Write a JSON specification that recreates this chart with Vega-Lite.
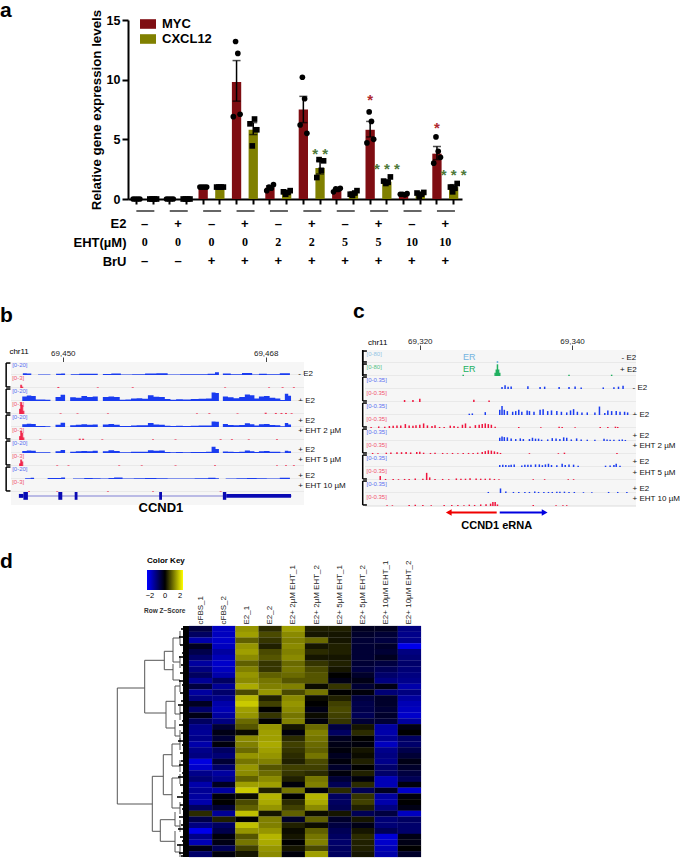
{"$schema":"https://vega.github.io/schema/vega-lite/v6.json","padding":0,"background":"white","spacing":0,"bounds":"full","resolve":{"scale":{"color":"independent","shape":"independent"},"legend":{"color":"independent"}},"config":{"view":{"stroke":null},"font":"Liberation Sans"},"vconcat":[
{"resolve":{"scale":{"color":"independent","shape":"independent"},"legend":{"color":"independent"}},"hconcat":[{"width":128,"height":179,"data":{"values":[]},"mark":"point","title":{"text":"a","anchor":"start","dy":5,"fontSize":21,"fontWeight":"bold"}},
{"width":334,"height":179,"encoding":{"x":{"field":"bar","type":"nominal","scale":{"domain":["1M","1C","2M","2C","3M","3C","4M","4C","5M","5C","6M","6C","7M","7C","8M","8C","9M","9C","10M","10C"],"paddingInner":0,"paddingOuter":0},"axis":{"labels":false,"title":null,"tickWidth":2,"tickSize":5,"tickColor":"#000","domainColor":"#000","domainWidth":2}},"y":{"field":"value","type":"quantitative","scale":{"domain":[0,15],"nice":false},"axis":{"values":[0,5,10,15],"grid":false,"title":"Relative gene expression levels","titleFontSize":13.3,"titleFontWeight":"bold","titleColor":"#000","titlePadding":3,"labelFontSize":12.5,"labelFontWeight":"bold","labelColor":"#000","tickSize":6,"tickWidth":2,"tickColor":"#000","domainColor":"#000","domainWidth":2}}},"layer":[
{"data":{"values":[{"bar":"1M","gene":"MYC","value":0.02},{"bar":"1C","gene":"CXCL12","value":0.02},{"bar":"2M","gene":"MYC","value":0.02},{"bar":"2C","gene":"CXCL12","value":0.02},{"bar":"3M","gene":"MYC","value":1},{"bar":"3C","gene":"CXCL12","value":1},{"bar":"4M","gene":"MYC","value":9.8,"lo":8.2,"hi":11.6},{"bar":"4C","gene":"CXCL12","value":5.8,"lo":5.4,"hi":6.4},{"bar":"5M","gene":"MYC","value":0.95,"lo":0.8,"hi":1.1},{"bar":"5C","gene":"CXCL12","value":0.55,"lo":0.45,"hi":0.65},{"bar":"6M","gene":"MYC","value":7.5,"lo":6.4,"hi":8.6},{"bar":"6C","gene":"CXCL12","value":2.6,"lo":2.1,"hi":3.2},{"bar":"7M","gene":"MYC","value":0.75,"lo":0.65,"hi":0.85},{"bar":"7C","gene":"CXCL12","value":0.5,"lo":0.4,"hi":0.6},{"bar":"8M","gene":"MYC","value":5.8,"lo":5.2,"hi":6.5},{"bar":"8C","gene":"CXCL12","value":1.45,"lo":1.3,"hi":1.6},{"bar":"9M","gene":"MYC","value":0.4,"lo":0.37,"hi":0.43},{"bar":"9C","gene":"CXCL12","value":0.4,"lo":0.3,"hi":0.5},{"bar":"10M","gene":"MYC","value":3.8,"lo":3.3,"hi":4.4},{"bar":"10C","gene":"CXCL12","value":1,"lo":0.8,"hi":1.2}]},"layer":[
{"mark":{"type":"bar","width":9.3},"encoding":{"color":{"field":"gene","type":"nominal","scale":{"domain":["MYC","CXCL12"],"range":["#7f0d12","#808000"]},"legend":{"orient":"none","legendX":12,"legendY":-4,"title":null,"symbolType":"M-1,-0.6H1V0.6H-1Z","symbolSize":256,"symbolStrokeWidth":0,"labelFontSize":13,"labelFontWeight":"bold","labelColor":"#000","rowPadding":0,"labelOffset":6}}}},
{"transform":[{"filter":"isValid(datum.hi)"}],"mark":{"type":"rule","color":"#000","strokeWidth":1.5},"encoding":{"y":{"field":"lo","type":"quantitative"},"y2":{"field":"hi"}}},
{"transform":[{"filter":"isValid(datum.hi)"}],"mark":{"type":"tick","orient":"horizontal","color":"#000","thickness":1.5,"size":8},"encoding":{"y":{"field":"hi","type":"quantitative"}}},
{"transform":[{"filter":"isValid(datum.hi)"}],"mark":{"type":"tick","orient":"horizontal","color":"#000","thickness":1.5,"size":8},"encoding":{"y":{"field":"lo","type":"quantitative"}}}]},
{"data":{"values":[{"bar":"1M","gene":"MYC","rep":1,"value":0},{"bar":"1M","gene":"MYC","rep":2,"value":0},{"bar":"1M","gene":"MYC","rep":3,"value":0},{"bar":"1M","gene":"MYC","rep":4,"value":0},{"bar":"1C","gene":"CXCL12","rep":1,"value":0},{"bar":"1C","gene":"CXCL12","rep":2,"value":0},{"bar":"1C","gene":"CXCL12","rep":3,"value":0},{"bar":"1C","gene":"CXCL12","rep":4,"value":0},{"bar":"2M","gene":"MYC","rep":1,"value":0},{"bar":"2M","gene":"MYC","rep":2,"value":0},{"bar":"2M","gene":"MYC","rep":3,"value":0},{"bar":"2M","gene":"MYC","rep":4,"value":0},{"bar":"2C","gene":"CXCL12","rep":1,"value":0},{"bar":"2C","gene":"CXCL12","rep":2,"value":0},{"bar":"2C","gene":"CXCL12","rep":3,"value":0},{"bar":"2C","gene":"CXCL12","rep":4,"value":0},{"bar":"3M","gene":"MYC","rep":1,"value":1},{"bar":"3M","gene":"MYC","rep":2,"value":1},{"bar":"3M","gene":"MYC","rep":3,"value":1},{"bar":"3M","gene":"MYC","rep":4,"value":1},{"bar":"3C","gene":"CXCL12","rep":1,"value":1},{"bar":"3C","gene":"CXCL12","rep":2,"value":1},{"bar":"3C","gene":"CXCL12","rep":3,"value":1},{"bar":"3C","gene":"CXCL12","rep":4,"value":1},{"bar":"4M","gene":"MYC","rep":1,"value":6.9},{"bar":"4M","gene":"MYC","rep":2,"value":13.2},{"bar":"4M","gene":"MYC","rep":3,"value":12.2},{"bar":"4M","gene":"MYC","rep":4,"value":7.1},{"bar":"4C","gene":"CXCL12","rep":1,"value":6.3},{"bar":"4C","gene":"CXCL12","rep":2,"value":4.45},{"bar":"4C","gene":"CXCL12","rep":3,"value":6.7},{"bar":"4C","gene":"CXCL12","rep":4,"value":5.8},{"bar":"5M","gene":"MYC","rep":1,"value":0.7},{"bar":"5M","gene":"MYC","rep":2,"value":1},{"bar":"5M","gene":"MYC","rep":3,"value":0.9},{"bar":"5M","gene":"MYC","rep":4,"value":1.2},{"bar":"5C","gene":"CXCL12","rep":1,"value":0.6},{"bar":"5C","gene":"CXCL12","rep":2,"value":0.4},{"bar":"5C","gene":"CXCL12","rep":3,"value":0.55},{"bar":"5C","gene":"CXCL12","rep":4,"value":0.7},{"bar":"6M","gene":"MYC","rep":1,"value":6.2},{"bar":"6M","gene":"MYC","rep":2,"value":10.2},{"bar":"6M","gene":"MYC","rep":3,"value":8.4},{"bar":"6M","gene":"MYC","rep":4,"value":5.5},{"bar":"6C","gene":"CXCL12","rep":1,"value":1.8},{"bar":"6C","gene":"CXCL12","rep":2,"value":3.3},{"bar":"6C","gene":"CXCL12","rep":3,"value":2.4},{"bar":"6C","gene":"CXCL12","rep":4,"value":3.2},{"bar":"7M","gene":"MYC","rep":1,"value":0.6},{"bar":"7M","gene":"MYC","rep":2,"value":0.85},{"bar":"7M","gene":"MYC","rep":3,"value":0.8},{"bar":"7M","gene":"MYC","rep":4,"value":0.9},{"bar":"7C","gene":"CXCL12","rep":1,"value":0.4},{"bar":"7C","gene":"CXCL12","rep":2,"value":0.3},{"bar":"7C","gene":"CXCL12","rep":3,"value":0.5},{"bar":"7C","gene":"CXCL12","rep":4,"value":0.7},{"bar":"8M","gene":"MYC","rep":1,"value":4.7},{"bar":"8M","gene":"MYC","rep":2,"value":7.3},{"bar":"8M","gene":"MYC","rep":3,"value":6.5},{"bar":"8M","gene":"MYC","rep":4,"value":5},{"bar":"8C","gene":"CXCL12","rep":1,"value":1.5},{"bar":"8C","gene":"CXCL12","rep":2,"value":1.3},{"bar":"8C","gene":"CXCL12","rep":3,"value":1.4},{"bar":"8C","gene":"CXCL12","rep":4,"value":1.85},{"bar":"9M","gene":"MYC","rep":1,"value":0.4},{"bar":"9M","gene":"MYC","rep":2,"value":0.4},{"bar":"9M","gene":"MYC","rep":3,"value":0.35},{"bar":"9M","gene":"MYC","rep":4,"value":0.45},{"bar":"9C","gene":"CXCL12","rep":1,"value":0.5},{"bar":"9C","gene":"CXCL12","rep":2,"value":0.2},{"bar":"9C","gene":"CXCL12","rep":3,"value":0.4},{"bar":"9C","gene":"CXCL12","rep":4,"value":0.55},{"bar":"10M","gene":"MYC","rep":1,"value":3},{"bar":"10M","gene":"MYC","rep":2,"value":5.2},{"bar":"10M","gene":"MYC","rep":3,"value":4},{"bar":"10M","gene":"MYC","rep":4,"value":3.5},{"bar":"10C","gene":"CXCL12","rep":1,"value":1},{"bar":"10C","gene":"CXCL12","rep":2,"value":0.6},{"bar":"10C","gene":"CXCL12","rep":3,"value":0.9},{"bar":"10C","gene":"CXCL12","rep":4,"value":1.3}]},"encoding":{"xOffset":{"field":"rep","type":"nominal","scale":{"type":"point","range":[4,13]}}},"layer":[{"transform":[{"filter":"datum.gene==='MYC'"}],"mark":{"type":"point","filled":true,"opacity":1,"color":"#000","size":32,"shape":"circle"}},{"transform":[{"filter":"datum.gene==='CXCL12'"}],"mark":{"type":"point","filled":true,"opacity":1,"color":"#000","size":32,"shape":"square"}}]},
{"data":{"values":[{"bar":"8M","stars":"*","value":8.5,"gene":"MYC"},{"bar":"10M","stars":"*","value":6.1,"gene":"MYC"},{"bar":"6C","stars":"* *","value":3.9,"gene":"CXCL12"},{"bar":"8C","stars":"* * *","value":2.7,"gene":"CXCL12"},{"bar":"10C","stars":"* * *","value":2.15,"gene":"CXCL12"}]},"mark":{"type":"text","fontSize":15,"fontWeight":"bold","baseline":"middle","dy":2},"encoding":{"text":{"field":"stars"},"color":{"condition":{"test":"datum.gene==='MYC'","value":"#b02a30"},"value":"#4f7a3a"}}}]}],"spacing":0,"bounds":"flush"},
{"hconcat":[{"width":128,"height":52,"data":{"values":[]},"mark":"point"},
{"width":334,"height":52,"data":{"values":[{"group":1,"row":"line"},{"group":2,"row":"line"},{"group":3,"row":"line"},{"group":4,"row":"line"},{"group":5,"row":"line"},{"group":6,"row":"line"},{"group":7,"row":"line"},{"group":8,"row":"line"},{"group":9,"row":"line"},{"group":10,"row":"line"},{"group":1,"row":"E2","label":"–"},{"group":2,"row":"E2","label":"+"},{"group":3,"row":"E2","label":"–"},{"group":4,"row":"E2","label":"+"},{"group":5,"row":"E2","label":"–"},{"group":6,"row":"E2","label":"+"},{"group":7,"row":"E2","label":"–"},{"group":8,"row":"E2","label":"+"},{"group":9,"row":"E2","label":"–"},{"group":10,"row":"E2","label":"+"},{"group":1,"row":"BrU","label":"–"},{"group":2,"row":"BrU","label":"–"},{"group":3,"row":"BrU","label":"+"},{"group":4,"row":"BrU","label":"+"},{"group":5,"row":"BrU","label":"+"},{"group":6,"row":"BrU","label":"+"},{"group":7,"row":"BrU","label":"+"},{"group":8,"row":"BrU","label":"+"},{"group":9,"row":"BrU","label":"+"},{"group":10,"row":"BrU","label":"+"},{"group":1,"row":"EHT(µM)","label":"0"},{"group":2,"row":"EHT(µM)","label":"0"},{"group":3,"row":"EHT(µM)","label":"0"},{"group":4,"row":"EHT(µM)","label":"0"},{"group":5,"row":"EHT(µM)","label":"2"},{"group":6,"row":"EHT(µM)","label":"2"},{"group":7,"row":"EHT(µM)","label":"5"},{"group":8,"row":"EHT(µM)","label":"5"},{"group":9,"row":"EHT(µM)","label":"10"},{"group":10,"row":"EHT(µM)","label":"10"}]},"encoding":{"x":{"field":"group","type":"ordinal","scale":{"paddingInner":0.5,"paddingOuter":0.25},"axis":null},"y":{"field":"row","type":"nominal","scale":{"type":"point","padding":0,"domain":["line","a","E2","b","c","EHT(µM)","d","e","BrU"],"range":[0,50]},"axis":{"values":["E2","EHT(µM)","BrU"],"title":null,"domain":false,"ticks":false,"labelFontSize":13,"labelFontWeight":"bold","labelColor":"#000","labelPadding":2}}},"layer":[{"transform":[{"filter":"datum.row==='line'"}],"mark":{"type":"bar","height":1.5,"color":"#333"}},{"transform":[{"filter":"datum.row==='E2'||datum.row==='BrU'"}],"mark":{"type":"text","fontSize":13,"fontWeight":"bold","color":"#000"},"encoding":{"text":{"field":"label"}}},{"transform":[{"filter":"datum.row==='EHT(µM)'"}],"mark":{"type":"text","fontSize":12,"fontWeight":"bold","font":"Liberation Serif","color":"#000"},"encoding":{"text":{"field":"label"}}}]}],"spacing":0,"bounds":"flush"},
{"hconcat":[{"width":345,"height":69,"data":{"values":[]},"mark":"point","title":{"text":"b","anchor":"start","dy":62,"fontSize":21,"fontWeight":"bold"}},{"width":340,"height":69,"data":{"values":[]},"mark":"point","title":{"text":"c","anchor":"start","dx":8,"dy":58,"fontSize":21,"fontWeight":"bold"}}],"spacing":0,"bounds":"flush"},
{"resolve":{"scale":{"color":"independent","shape":"independent"},"legend":{"color":"independent"}},"hconcat":[{"width":6,"height":10,"data":{"values":[]},"mark":"point"},
{"vconcat":[{"width":303,"height":12,"data":{"values":[]},"mark":"point"},
{"bounds":"flush","spacing":0,"title":{"text":"chr11","anchor":"start","fontSize":8,"fontWeight":"normal","dx":4,"dy":11},
 "data":{"values":[
{"t":"b1b","range":"[0-20]","p":69445.5,"v":75},{"t":"b1r","range":"[0-3]","p":69445.5,"v":75},{"t":"b2b","range":"[0-20]","p":69445.5,"v":75},{"t":"b2r","range":"[0-3]","p":69445.5,"v":75},{"t":"b3b","range":"[0-20]","p":69445.5,"v":75},{"t":"b3r","range":"[0-3]","p":69445.5,"v":75},{"t":"b4b","range":"[0-20]","p":69445.5,"v":75},{"t":"b4r","range":"[0-3]","p":69445.5,"v":75},{"t":"b5b","range":"[0-20]","p":69445.5,"v":75},{"t":"b5r","range":"[0-3]","p":69445.5,"v":75},{"t":"b6g","range":"","p":69445.5,"v":75},
{"t":"b1b","name":"- E2","p":69470.9,"v":8},{"t":"b2b","name":"+ E2","p":69470.9,"v":2},{"t":"b3b","name":"+ E2","p":69470.9,"v":50},{"t":"b3r","name":"+ EHT 2 µM","p":69470.9,"v":68},{"t":"b4b","name":"+ E2","p":69470.9,"v":25},{"t":"b4r","name":"+ EHT 5 µM","p":69470.9,"v":50},{"t":"b5b","name":"+ E2","p":69470.9,"v":23},{"t":"b5r","name":"+ EHT 10 µM","p":69470.9,"v":50},
{"t":"b6g","gene":"CCND1","p":69458.7,"v":-23},
{"t":"b6g","p":69446.1,"p2":69470.3,"v":68,"v2":72},{"t":"b6g","p":69446.1,"p2":69446.5,"v":55,"v2":85},{"t":"b6g","p":69446.5,"p2":69446.9,"v":40,"v2":100},{"t":"b6g","p":69449.6,"p2":69449.95,"v":40,"v2":100},{"t":"b6g","p":69451.05,"p2":69451.3,"v":40,"v2":100},{"t":"b6g","p":69458.55,"p2":69458.8,"v":40,"v2":100},{"t":"b6g","p":69464.2,"p2":69464.5,"v":40,"v2":100},{"t":"b6g","p":69464.5,"p2":69470.25,"v":55,"v2":85},
{"t":"b2b","p":69446.2,"s":0},{"t":"b2b","p":69446.6,"s":35},{"t":"b2b","p":69447,"s":42},{"t":"b2b","p":69447.4,"s":38},{"t":"b2b","p":69447.8,"s":12},{"t":"b2b","p":69448.2,"s":12},{"t":"b2b","p":69448.7,"s":10},{"t":"b2b","p":69449.1,"s":0},{"t":"b2b","p":69449.6,"s":30},{"t":"b2b","p":69450,"s":48},{"t":"b2b","p":69450.4,"s":0},{"t":"b2b","p":69450.9,"s":28},{"t":"b2b","p":69451.4,"s":25},{"t":"b2b","p":69451.9,"s":38},{"t":"b2b","p":69452.4,"s":30},{"t":"b2b","p":69452.9,"s":35},{"t":"b2b","p":69453.3,"s":0},{"t":"b2b","p":69453.8,"s":30},{"t":"b2b","p":69454.3,"s":35},{"t":"b2b","p":69454.8,"s":30},{"t":"b2b","p":69455.3,"s":10},{"t":"b2b","p":69455.8,"s":12},{"t":"b2b","p":69456.3,"s":20},{"t":"b2b","p":69456.8,"s":22},{"t":"b2b","p":69457.3,"s":18},{"t":"b2b","p":69457.8,"s":45},{"t":"b2b","p":69458.3,"s":32},{"t":"b2b","p":69458.8,"s":30},{"t":"b2b","p":69459.3,"s":15},{"t":"b2b","p":69459.8,"s":10},{"t":"b2b","p":69460.3,"s":14},{"t":"b2b","p":69461,"s":12},{"t":"b2b","p":69461.7,"s":16},{"t":"b2b","p":69462.4,"s":18},{"t":"b2b","p":69463,"s":20},{"t":"b2b","p":69463.4,"s":65},{"t":"b2b","p":69463.7,"s":62},{"t":"b2b","p":69464,"s":0},{"t":"b2b","p":69464.4,"s":35},{"t":"b2b","p":69464.9,"s":28},{"t":"b2b","p":69465.4,"s":22},{"t":"b2b","p":69465.9,"s":30},{"t":"b2b","p":69466.4,"s":50},{"t":"b2b","p":69466.8,"s":45},{"t":"b2b","p":69467.2,"s":20},{"t":"b2b","p":69467.6,"s":35},{"t":"b2b","p":69468.1,"s":38},{"t":"b2b","p":69468.6,"s":25},{"t":"b2b","p":69469.1,"s":20},{"t":"b2b","p":69469.5,"s":8},{"t":"b2b","p":69469.9,"s":55},{"t":"b2b","p":69470.1,"s":40},{"t":"b2b","p":69470.4,"s":0},
{"t":"b3b","p":69446.2,"s":0},{"t":"b3b","p":69446.6,"s":22},{"t":"b3b","p":69447,"s":25},{"t":"b3b","p":69447.4,"s":24},{"t":"b3b","p":69447.8,"s":8},{"t":"b3b","p":69448.2,"s":7},{"t":"b3b","p":69448.7,"s":6},{"t":"b3b","p":69449.1,"s":0},{"t":"b3b","p":69449.6,"s":18},{"t":"b3b","p":69450,"s":32},{"t":"b3b","p":69450.4,"s":0},{"t":"b3b","p":69450.9,"s":14},{"t":"b3b","p":69451.4,"s":18},{"t":"b3b","p":69451.9,"s":22},{"t":"b3b","p":69452.4,"s":18},{"t":"b3b","p":69452.9,"s":20},{"t":"b3b","p":69453.3,"s":0},{"t":"b3b","p":69453.8,"s":20},{"t":"b3b","p":69454.3,"s":24},{"t":"b3b","p":69454.8,"s":18},{"t":"b3b","p":69455.3,"s":7},{"t":"b3b","p":69455.8,"s":8},{"t":"b3b","p":69456.3,"s":12},{"t":"b3b","p":69456.8,"s":14},{"t":"b3b","p":69457.3,"s":14},{"t":"b3b","p":69457.8,"s":30},{"t":"b3b","p":69458.3,"s":20},{"t":"b3b","p":69458.8,"s":18},{"t":"b3b","p":69459.3,"s":10},{"t":"b3b","p":69459.8,"s":8},{"t":"b3b","p":69460.3,"s":9},{"t":"b3b","p":69461,"s":8},{"t":"b3b","p":69461.7,"s":10},{"t":"b3b","p":69462.4,"s":11},{"t":"b3b","p":69463,"s":12},{"t":"b3b","p":69463.4,"s":42},{"t":"b3b","p":69463.7,"s":40},{"t":"b3b","p":69464,"s":0},{"t":"b3b","p":69464.4,"s":24},{"t":"b3b","p":69464.9,"s":16},{"t":"b3b","p":69465.4,"s":14},{"t":"b3b","p":69465.9,"s":16},{"t":"b3b","p":69466.4,"s":28},{"t":"b3b","p":69466.8,"s":22},{"t":"b3b","p":69467.2,"s":12},{"t":"b3b","p":69467.6,"s":22},{"t":"b3b","p":69468.1,"s":24},{"t":"b3b","p":69468.6,"s":16},{"t":"b3b","p":69469.1,"s":14},{"t":"b3b","p":69469.5,"s":5},{"t":"b3b","p":69469.9,"s":30},{"t":"b3b","p":69470.1,"s":20},{"t":"b3b","p":69470.4,"s":0},
{"t":"b4b","p":69446.2,"s":0},{"t":"b4b","p":69446.6,"s":16},{"t":"b4b","p":69447,"s":20},{"t":"b4b","p":69447.4,"s":18},{"t":"b4b","p":69447.8,"s":6},{"t":"b4b","p":69448.2,"s":6},{"t":"b4b","p":69448.7,"s":5},{"t":"b4b","p":69449.1,"s":0},{"t":"b4b","p":69449.6,"s":14},{"t":"b4b","p":69450,"s":24},{"t":"b4b","p":69450.4,"s":0},{"t":"b4b","p":69450.9,"s":10},{"t":"b4b","p":69451.4,"s":14},{"t":"b4b","p":69451.9,"s":16},{"t":"b4b","p":69452.4,"s":14},{"t":"b4b","p":69452.9,"s":18},{"t":"b4b","p":69453.3,"s":0},{"t":"b4b","p":69453.8,"s":14},{"t":"b4b","p":69454.3,"s":22},{"t":"b4b","p":69454.8,"s":16},{"t":"b4b","p":69455.3,"s":6},{"t":"b4b","p":69455.8,"s":6},{"t":"b4b","p":69456.3,"s":10},{"t":"b4b","p":69456.8,"s":10},{"t":"b4b","p":69457.3,"s":10},{"t":"b4b","p":69457.8,"s":22},{"t":"b4b","p":69458.3,"s":18},{"t":"b4b","p":69458.8,"s":20},{"t":"b4b","p":69459.3,"s":8},{"t":"b4b","p":69459.8,"s":6},{"t":"b4b","p":69460.3,"s":7},{"t":"b4b","p":69461,"s":6},{"t":"b4b","p":69461.7,"s":8},{"t":"b4b","p":69462.4,"s":8},{"t":"b4b","p":69463,"s":10},{"t":"b4b","p":69463.4,"s":48},{"t":"b4b","p":69463.7,"s":30},{"t":"b4b","p":69464,"s":0},{"t":"b4b","p":69464.4,"s":12},{"t":"b4b","p":69464.9,"s":10},{"t":"b4b","p":69465.4,"s":8},{"t":"b4b","p":69465.9,"s":10},{"t":"b4b","p":69466.4,"s":20},{"t":"b4b","p":69466.8,"s":14},{"t":"b4b","p":69467.2,"s":8},{"t":"b4b","p":69467.6,"s":14},{"t":"b4b","p":69468.1,"s":16},{"t":"b4b","p":69468.6,"s":10},{"t":"b4b","p":69469.1,"s":10},{"t":"b4b","p":69469.5,"s":4},{"t":"b4b","p":69469.9,"s":18},{"t":"b4b","p":69470.1,"s":14},{"t":"b4b","p":69470.4,"s":0},
{"t":"b1b","p":69446.3,"s":0},{"t":"b1b","p":69446.6,"s":14},{"t":"b1b","p":69447,"s":12},{"t":"b1b","p":69447.4,"s":0},{"t":"b1b","p":69448.2,"s":4},{"t":"b1b","p":69448.7,"s":3},{"t":"b1b","p":69449.1,"s":0},{"t":"b1b","p":69449.7,"s":10},{"t":"b1b","p":69450,"s":12},{"t":"b1b","p":69450.4,"s":0},{"t":"b1b","p":69451,"s":6},{"t":"b1b","p":69451.9,"s":10},{"t":"b1b","p":69452.9,"s":9},{"t":"b1b","p":69453.3,"s":0},{"t":"b1b","p":69453.8,"s":8},{"t":"b1b","p":69454.8,"s":12},{"t":"b1b","p":69455.5,"s":4},{"t":"b1b","p":69456.8,"s":6},{"t":"b1b","p":69457.8,"s":12},{"t":"b1b","p":69458.8,"s":14},{"t":"b1b","p":69459.8,"s":4},{"t":"b1b","p":69461,"s":5},{"t":"b1b","p":69462.4,"s":5},{"t":"b1b","p":69463.3,"s":10},{"t":"b1b","p":69463.7,"s":22},{"t":"b1b","p":69464,"s":0},{"t":"b1b","p":69464.4,"s":12},{"t":"b1b","p":69465.4,"s":6},{"t":"b1b","p":69466.4,"s":16},{"t":"b1b","p":69467.2,"s":4},{"t":"b1b","p":69467.6,"s":10},{"t":"b1b","p":69468.6,"s":6},{"t":"b1b","p":69469.9,"s":14},{"t":"b1b","p":69470.4,"s":0},
{"t":"b5b","p":69446.3,"s":0},{"t":"b5b","p":69447,"s":6},{"t":"b5b","p":69447.3,"s":10},{"t":"b5b","p":69447.6,"s":0},{"t":"b5b","p":69449.7,"s":8},{"t":"b5b","p":69450,"s":12},{"t":"b5b","p":69450.4,"s":0},{"t":"b5b","p":69451.4,"s":4},{"t":"b5b","p":69452.4,"s":8},{"t":"b5b","p":69452.9,"s":5},{"t":"b5b","p":69453.8,"s":4},{"t":"b5b","p":69454.3,"s":8},{"t":"b5b","p":69454.8,"s":12},{"t":"b5b","p":69455.8,"s":4},{"t":"b5b","p":69456.8,"s":5},{"t":"b5b","p":69457.8,"s":8},{"t":"b5b","p":69458.8,"s":6},{"t":"b5b","p":69459.8,"s":3},{"t":"b5b","p":69461,"s":3},{"t":"b5b","p":69462.4,"s":5},{"t":"b5b","p":69463.4,"s":10},{"t":"b5b","p":69463.7,"s":6},{"t":"b5b","p":69464,"s":0},{"t":"b5b","p":69464.9,"s":4},{"t":"b5b","p":69465.9,"s":6},{"t":"b5b","p":69466.8,"s":8},{"t":"b5b","p":69467.6,"s":6},{"t":"b5b","p":69468.6,"s":4},{"t":"b5b","p":69469.9,"s":10},{"t":"b5b","p":69470.4,"s":0},
{"t":"b1r","p":69446.3,"s":25},{"t":"b1r","p":69446.4,"s":10},{"t":"b1r","p":69449.6,"s":8},{"t":"b1r","p":69453.1,"s":5},{"t":"b1r","p":69456.2,"s":6},{"t":"b1r","p":69464.4,"s":5},{"t":"b1r","p":69468.3,"s":5},{"t":"b1r","p":69469.5,"s":6},{"t":"b1r","p":69470.5,"s":6},
{"t":"b2r","p":69446.2,"s":40},{"t":"b2r","p":69446.3,"s":90},{"t":"b2r","p":69446.4,"s":70},{"t":"b2r","p":69446.5,"s":25},{"t":"b2r","p":69449.8,"s":5},{"t":"b2r","p":69451.3,"s":5},{"t":"b2r","p":69454,"s":5},{"t":"b2r","p":69461.9,"s":5},{"t":"b2r","p":69463,"s":6},{"t":"b2r","p":69465.5,"s":5},{"t":"b2r","p":69468,"s":10},{"t":"b2r","p":69468.9,"s":8},{"t":"b2r","p":69469.4,"s":8},{"t":"b2r","p":69469.8,"s":8},{"t":"b2r","p":69470.3,"s":6},
{"t":"b3r","p":69446.2,"s":30},{"t":"b3r","p":69446.3,"s":70},{"t":"b3r","p":69446.4,"s":55},{"t":"b3r","p":69446.5,"s":20},{"t":"b3r","p":69448,"s":5},{"t":"b3r","p":69451.5,"s":10},{"t":"b3r","p":69451.8,"s":10},{"t":"b3r","p":69453.5,"s":5},{"t":"b3r","p":69458,"s":5},{"t":"b3r","p":69460,"s":5},{"t":"b3r","p":69464,"s":6},{"t":"b3r","p":69465,"s":6},{"t":"b3r","p":69466.5,"s":5},{"t":"b3r","p":69469,"s":6},
{"t":"b4r","p":69446.2,"s":20},{"t":"b4r","p":69446.3,"s":50},{"t":"b4r","p":69446.4,"s":35},{"t":"b4r","p":69449.5,"s":5},{"t":"b4r","p":69450.5,"s":5},{"t":"b4r","p":69455,"s":5},{"t":"b4r","p":69457,"s":5},{"t":"b4r","p":69460,"s":5},{"t":"b4r","p":69463.5,"s":6},{"t":"b4r","p":69469,"s":5},{"t":"b4r","p":69469.8,"s":6},{"t":"b4r","p":69470.5,"s":6},
{"t":"b5r","p":69447,"s":6},{"t":"b5r","p":69449.5,"s":5},{"t":"b5r","p":69454,"s":5},{"t":"b5r","p":69458,"s":5},{"t":"b5r","p":69464,"s":5}
]},
 "facet":{"row":{"field":"t","type":"nominal","header":null}},
 "spec":{"width":303,"height":13,"encoding":{"x":{"field":"p","type":"quantitative","scale":{"domain":[69445.4,69471.4],"nice":false,"zero":false},"axis":{"orient":"top","values":[69450,69468],"format":",d","title":null,"domain":false,"grid":false,"labelFontSize":8,"labelPadding":0,"tickSize":5,"tickColor":"#444","labelColor":"#222"}},"y":{"field":"v","type":"quantitative","scale":{"domain":[0,100]},"axis":null},"color":{"field":"t","type":"nominal","scale":{"domain":["b1b","b1r","b2b","b2r","b3b","b3r","b4b","b4r","b5b","b5r","b6g"],"range":["#1a3cf0","#f0143c","#1a3cf0","#f0143c","#1a3cf0","#f0143c","#1a3cf0","#f0143c","#1a3cf0","#f0143c","#0a0ab4"]},"legend":null}},"layer":[
{"transform":[{"filter":"isValid(datum.range)"}],"mark":{"type":"rect"},"encoding":{"x":{"datum":69445.4},"x2":{"datum":69471.4},"y":{"datum":0,"axis":null},"y2":{"datum":100},"color":{"value":"#f6f6f6"}}},
{"transform":[{"filter":"datum.range"}],"mark":{"type":"rule","strokeWidth":1},"encoding":{"x":{"datum":69445.4},"x2":{"datum":69471.4},"y":{"datum":0,"axis":null},"color":{"value":"#dcdcdc"}}},
{"transform":[{"filter":"isValid(datum.s)&&test(/b$/,datum.t)"}],"mark":{"type":"area","interpolate":"step"},"encoding":{"y":{"field":"s","type":"quantitative","stack":null,"axis":null}}},
{"transform":[{"filter":"isValid(datum.s)&&test(/r$/,datum.t)"}],"mark":{"type":"bar","width":2,"orient":"vertical","opacity":0.8},"encoding":{"y":{"field":"s","type":"quantitative","stack":null,"axis":null}}},
{"transform":[{"filter":"isValid(datum.p2)"}],"mark":{"type":"rect"},"encoding":{"x2":{"field":"p2"},"y2":{"field":"v2"}}},
{"transform":[{"filter":"datum.range&&test(/b$/,datum.t)"}],"mark":{"type":"rule","strokeWidth":1.5},"encoding":{"x":{"datum":69444.97},"x2":{"datum":69445.35},"y":{"datum":92,"axis":null},"color":{"value":"#000"}}},
{"transform":[{"filter":"datum.range&&test(/b$/,datum.t)"}],"mark":{"type":"rule","strokeWidth":1.5},"encoding":{"x":{"datum":69444.97},"y":{"datum":92,"axis":null},"y2":{"datum":0},"color":{"value":"#000"}}},
{"transform":[{"filter":"datum.range&&test(/r$/,datum.t)"}],"mark":{"type":"rule","strokeWidth":1.5},"encoding":{"x":{"datum":69444.97},"x2":{"datum":69445.35},"y":{"datum":8,"axis":null},"color":{"value":"#000"}}},
{"transform":[{"filter":"datum.range&&test(/r$/,datum.t)"}],"mark":{"type":"rule","strokeWidth":1.5},"encoding":{"x":{"datum":69444.97},"y":{"datum":100,"axis":null},"y2":{"datum":8},"color":{"value":"#000"}}},
{"transform":[{"filter":"datum.range"}],"mark":{"type":"text","fontSize":6,"align":"left","opacity":0.75},"encoding":{"text":{"field":"range"}}},
{"transform":[{"filter":"isValid(datum.name)"}],"mark":{"type":"text","fontSize":8,"align":"left"},"encoding":{"text":{"field":"name"},"color":{"value":"#111"}}},
{"transform":[{"filter":"isValid(datum.gene)"}],"mark":{"type":"text","fontSize":13,"fontWeight":"bold"},"encoding":{"text":{"field":"gene"},"color":{"value":"#000"}}}
]}}],"spacing":0,"bounds":"flush"},
{"width":354,"height":10,"data":{"values":[]},"mark":"point"},
{"bounds":"flush","spacing":0,"title":{"text":"chr11","anchor":"start","fontSize":8,"fontWeight":"normal","dx":8,"dy":14},
 "data":{"values":[
{"t":"c1a","range":"[0-80]","p":69313,"v":70},{"t":"c1c","range":"[0-80]","p":69313,"v":70},{"t":"c2b","range":"[0-0.35]","p":69313,"v":70},{"t":"c2r","range":"[0-0.35]","p":69313,"v":70},{"t":"c3b","range":"[0-0.35]","p":69313,"v":70},{"t":"c3r","range":"[0-0.35]","p":69313,"v":70},{"t":"c4b","range":"[0-0.35]","p":69313,"v":70},{"t":"c4r","range":"[0-0.35]","p":69313,"v":70},{"t":"c5b","range":"[0-0.35]","p":69313,"v":70},{"t":"c5r","range":"[0-0.35]","p":69313,"v":70},{"t":"c6b","range":"[0-0.35]","p":69313,"v":70},{"t":"c6r","range":"[0-0.35]","p":69313,"v":70},
{"t":"c1a","er":"ER","p":69326.5,"v":45},{"t":"c1c","er":"ER","p":69326.5,"v":56},
{"t":"c1a","name":"- E2","p":69346.5,"v":35},{"t":"c1c","name":"+ E2","p":69346.3,"v":50},{"t":"c2b","name":"- E2","p":69347.95,"v":5},{"t":"c3b","name":"+ E2","p":69347.95,"v":2},{"t":"c4b","name":"+ E2","p":69347.95,"v":40},{"t":"c4r","name":"+ EHT 2 µM","p":69347.95,"v":62},{"t":"c5b","name":"+ E2","p":69347.95,"v":35},{"t":"c5r","name":"+ EHT 5 µM","p":69347.95,"v":55},{"t":"c6b","name":"+ E2","p":69347.95,"v":28},{"t":"c6r","name":"+ EHT 10 µM","p":69347.95,"v":55},
{"t":"c7g","gene":"CCND1 eRNA","p":69330.1,"v":-54},{"t":"c7g","arrow":"left","p":69330.1,"p2":69323.8,"v":50},{"t":"c7g","arrow":"right","p":69330.5,"p2":69336.4,"v":50},
{"t":"c1a","p":69330.2,"s":15},{"t":"c1c","p":69329.9,"s":25},{"t":"c1c","p":69330.05,"s":50},{"t":"c1c","p":69330.2,"s":90},{"t":"c1c","p":69330.35,"s":50},{"t":"c1c","p":69330.5,"s":25},{"t":"c1c","p":69325.7,"s":10},{"t":"c1c","p":69339.6,"s":10},{"t":"c1c","p":69345.2,"s":10},
{"t":"c2b","p":69330.8,"s":15},{"t":"c2b","p":69331.2,"s":28},{"t":"c2b","p":69331.6,"s":18},{"t":"c2b","p":69332,"s":20},{"t":"c2b","p":69334.2,"s":22},{"t":"c2b","p":69335.8,"s":15},{"t":"c2b","p":69336.4,"s":18},{"t":"c2b","p":69338.3,"s":15},{"t":"c2b","p":69339.6,"s":15},{"t":"c2b","p":69340.4,"s":20},{"t":"c2b","p":69341.2,"s":12},{"t":"c2b","p":69344.1,"s":12},{"t":"c2b","p":69345.5,"s":14},{"t":"c2b","p":69346.1,"s":18},{"t":"c2b","p":69346.7,"s":25},
{"t":"c2r","p":69318,"s":15},{"t":"c2r","p":69319.1,"s":15},{"t":"c2r","p":69320,"s":25},{"t":"c2r","p":69327.1,"s":18},{"t":"c2r","p":69329.1,"s":12},
{"t":"c3b","p":69326.5,"s":10},{"t":"c3b","p":69326.9,"s":12},{"t":"c3b","p":69328.6,"s":22},{"t":"c3b","p":69330.5,"s":40},{"t":"c3b","p":69330.8,"s":70},{"t":"c3b","p":69331.1,"s":40},{"t":"c3b","p":69331.5,"s":30},{"t":"c3b","p":69332.2,"s":25},{"t":"c3b","p":69332.6,"s":30},{"t":"c3b","p":69333,"s":40},{"t":"c3b","p":69333.4,"s":25},{"t":"c3b","p":69334.1,"s":35},{"t":"c3b","p":69334.4,"s":30},{"t":"c3b","p":69335,"s":25},{"t":"c3b","p":69335.8,"s":40},{"t":"c3b","p":69336.2,"s":45},{"t":"c3b","p":69336.8,"s":30},{"t":"c3b","p":69337.3,"s":35},{"t":"c3b","p":69338,"s":30},{"t":"c3b","p":69338.6,"s":25},{"t":"c3b","p":69339.3,"s":20},{"t":"c3b","p":69339.8,"s":35},{"t":"c3b","p":69340.2,"s":45},{"t":"c3b","p":69340.7,"s":25},{"t":"c3b","p":69341.3,"s":20},{"t":"c3b","p":69342,"s":20},{"t":"c3b","p":69343,"s":20},{"t":"c3b","p":69343.6,"s":65},{"t":"c3b","p":69344.3,"s":15},{"t":"c3b","p":69344.7,"s":35},{"t":"c3b","p":69345.2,"s":30},{"t":"c3b","p":69345.8,"s":30},{"t":"c3b","p":69346.3,"s":25},{"t":"c3b","p":69346.9,"s":25},{"t":"c3b","p":69347.3,"s":20},
{"t":"c3r","p":69313.6,"s":8},{"t":"c3r","p":69314.6,"s":12},{"t":"c3r","p":69315.4,"s":10},{"t":"c3r","p":69316,"s":15},{"t":"c3r","p":69316.5,"s":18},{"t":"c3r","p":69317,"s":20},{"t":"c3r","p":69317.5,"s":20},{"t":"c3r","p":69318.1,"s":30},{"t":"c3r","p":69318.6,"s":20},{"t":"c3r","p":69319.1,"s":18},{"t":"c3r","p":69319.5,"s":22},{"t":"c3r","p":69320,"s":25},{"t":"c3r","p":69320.5,"s":35},{"t":"c3r","p":69321,"s":20},{"t":"c3r","p":69321.6,"s":15},{"t":"c3r","p":69322,"s":22},{"t":"c3r","p":69322.6,"s":8},{"t":"c3r","p":69323.2,"s":8},{"t":"c3r","p":69324,"s":18},{"t":"c3r","p":69324.5,"s":15},{"t":"c3r","p":69325,"s":10},{"t":"c3r","p":69325.6,"s":25},{"t":"c3r","p":69326,"s":35},{"t":"c3r","p":69326.6,"s":12},{"t":"c3r","p":69327.3,"s":22},{"t":"c3r","p":69327.8,"s":25},{"t":"c3r","p":69328.2,"s":30},{"t":"c3r","p":69328.6,"s":35},{"t":"c3r","p":69329,"s":30},{"t":"c3r","p":69329.4,"s":25},{"t":"c3r","p":69329.9,"s":10},{"t":"c3r","p":69333,"s":8},{"t":"c3r","p":69335.9,"s":6},{"t":"c3r","p":69338.3,"s":10},{"t":"c3r","p":69338.7,"s":8},{"t":"c3r","p":69340.4,"s":6},{"t":"c3r","p":69343.7,"s":8},{"t":"c3r","p":69344.7,"s":8},{"t":"c3r","p":69345.7,"s":10},{"t":"c3r","p":69346,"s":8},
{"t":"c4b","p":69330.5,"s":25},{"t":"c4b","p":69330.8,"s":35},{"t":"c4b","p":69331.1,"s":30},{"t":"c4b","p":69331.5,"s":28},{"t":"c4b","p":69332,"s":20},{"t":"c4b","p":69332.6,"s":15},{"t":"c4b","p":69333.2,"s":20},{"t":"c4b","p":69333.6,"s":15},{"t":"c4b","p":69334.4,"s":15},{"t":"c4b","p":69334.8,"s":25},{"t":"c4b","p":69335.2,"s":18},{"t":"c4b","p":69335.6,"s":18},{"t":"c4b","p":69336,"s":10},{"t":"c4b","p":69336.8,"s":12},{"t":"c4b","p":69337.4,"s":22},{"t":"c4b","p":69337.9,"s":20},{"t":"c4b","p":69338.4,"s":15},{"t":"c4b","p":69338.9,"s":28},{"t":"c4b","p":69339.3,"s":25},{"t":"c4b","p":69339.9,"s":12},{"t":"c4b","p":69340.6,"s":20},{"t":"c4b","p":69341.2,"s":12},{"t":"c4b","p":69342,"s":10},{"t":"c4b","p":69343,"s":10},{"t":"c4b","p":69344.2,"s":18},{"t":"c4b","p":69344.6,"s":12},{"t":"c4b","p":69345,"s":10},{"t":"c4b","p":69345.5,"s":10},{"t":"c4b","p":69346.2,"s":10},{"t":"c4b","p":69346.6,"s":12},{"t":"c4b","p":69347,"s":8},
{"t":"c4r","p":69313.8,"s":8},{"t":"c4r","p":69314.5,"s":6},{"t":"c4r","p":69315.6,"s":10},{"t":"c4r","p":69316.2,"s":12},{"t":"c4r","p":69317,"s":14},{"t":"c4r","p":69317.6,"s":14},{"t":"c4r","p":69318.2,"s":16},{"t":"c4r","p":69318.8,"s":12},{"t":"c4r","p":69319.6,"s":16},{"t":"c4r","p":69320,"s":18},{"t":"c4r","p":69320.5,"s":10},{"t":"c4r","p":69321.4,"s":8},{"t":"c4r","p":69322,"s":10},{"t":"c4r","p":69323,"s":8},{"t":"c4r","p":69323.6,"s":6},{"t":"c4r","p":69324.3,"s":8},{"t":"c4r","p":69325,"s":6},{"t":"c4r","p":69325.7,"s":8},{"t":"c4r","p":69326.4,"s":8},{"t":"c4r","p":69327,"s":8},{"t":"c4r","p":69327.6,"s":10},{"t":"c4r","p":69328.2,"s":16},{"t":"c4r","p":69328.6,"s":22},{"t":"c4r","p":69329,"s":28},{"t":"c4r","p":69329.4,"s":26},{"t":"c4r","p":69329.8,"s":20},{"t":"c4r","p":69330.2,"s":14},{"t":"c4r","p":69330.6,"s":8},{"t":"c4r","p":69334.4,"s":6},{"t":"c4r","p":69338.2,"s":6},{"t":"c4r","p":69339,"s":10},{"t":"c4r","p":69345.9,"s":8},
{"t":"c5b","p":69330.5,"s":15},{"t":"c5b","p":69330.9,"s":18},{"t":"c5b","p":69331.3,"s":15},{"t":"c5b","p":69331.7,"s":14},{"t":"c5b","p":69332,"s":18},{"t":"c5b","p":69332.4,"s":20},{"t":"c5b","p":69333.4,"s":12},{"t":"c5b","p":69333.8,"s":18},{"t":"c5b","p":69334.2,"s":18},{"t":"c5b","p":69334.6,"s":18},{"t":"c5b","p":69335.2,"s":20},{"t":"c5b","p":69335.7,"s":20},{"t":"c5b","p":69336.1,"s":14},{"t":"c5b","p":69336.5,"s":20},{"t":"c5b","p":69336.9,"s":25},{"t":"c5b","p":69337.3,"s":15},{"t":"c5b","p":69338,"s":14},{"t":"c5b","p":69338.7,"s":25},{"t":"c5b","p":69339.1,"s":15},{"t":"c5b","p":69339.6,"s":20},{"t":"c5b","p":69340.2,"s":18},{"t":"c5b","p":69340.8,"s":10},{"t":"c5b","p":69344.4,"s":10},{"t":"c5b","p":69345,"s":12},{"t":"c5b","p":69345.5,"s":15},{"t":"c5b","p":69345.8,"s":25},{"t":"c5b","p":69346.3,"s":10},
{"t":"c5r","p":69314.8,"s":30},{"t":"c5r","p":69315.5,"s":8},{"t":"c5r","p":69316.5,"s":8},{"t":"c5r","p":69317.2,"s":6},{"t":"c5r","p":69318,"s":8},{"t":"c5r","p":69318.6,"s":8},{"t":"c5r","p":69319.4,"s":12},{"t":"c5r","p":69320.4,"s":10},{"t":"c5r","p":69320.9,"s":55},{"t":"c5r","p":69321.3,"s":20},{"t":"c5r","p":69322,"s":8},{"t":"c5r","p":69323,"s":8},{"t":"c5r","p":69323.8,"s":6},{"t":"c5r","p":69324.8,"s":12},{"t":"c5r","p":69325.4,"s":10},{"t":"c5r","p":69326,"s":10},{"t":"c5r","p":69326.6,"s":14},{"t":"c5r","p":69327.4,"s":12},{"t":"c5r","p":69328,"s":10},{"t":"c5r","p":69328.6,"s":10},{"t":"c5r","p":69329.2,"s":12},{"t":"c5r","p":69329.8,"s":8},{"t":"c5r","p":69330.4,"s":6},{"t":"c5r","p":69334.9,"s":6},{"t":"c5r","p":69336.4,"s":6},{"t":"c5r","p":69339.5,"s":6},{"t":"c5r","p":69340.2,"s":6},
{"t":"c6b","p":69329,"s":8},{"t":"c6b","p":69330.6,"s":35},{"t":"c6b","p":69331.3,"s":12},{"t":"c6b","p":69332.3,"s":8},{"t":"c6b","p":69333,"s":8},{"t":"c6b","p":69333.8,"s":8},{"t":"c6b","p":69334.4,"s":8},{"t":"c6b","p":69335.1,"s":12},{"t":"c6b","p":69335.6,"s":8},{"t":"c6b","p":69336.3,"s":8},{"t":"c6b","p":69336.9,"s":8},{"t":"c6b","p":69337.4,"s":8},{"t":"c6b","p":69338,"s":10},{"t":"c6b","p":69338.4,"s":10},{"t":"c6b","p":69339,"s":10},{"t":"c6b","p":69339.6,"s":8},{"t":"c6b","p":69340.3,"s":8},{"t":"c6b","p":69341.5,"s":6},{"t":"c6b","p":69342.6,"s":6},{"t":"c6b","p":69344.8,"s":8},{"t":"c6b","p":69346,"s":8},{"t":"c6b","p":69347.2,"s":8},
{"t":"c6r","p":69315.7,"s":6},{"t":"c6r","p":69316.4,"s":5},{"t":"c6r","p":69318.6,"s":8},{"t":"c6r","p":69319.4,"s":10},{"t":"c6r","p":69320.4,"s":8},{"t":"c6r","p":69321.5,"s":5},{"t":"c6r","p":69323.2,"s":8},{"t":"c6r","p":69324.2,"s":8},{"t":"c6r","p":69325,"s":8},{"t":"c6r","p":69325.8,"s":6},{"t":"c6r","p":69326.5,"s":10},{"t":"c6r","p":69327.2,"s":8},{"t":"c6r","p":69328,"s":12},{"t":"c6r","p":69328.7,"s":14},{"t":"c6r","p":69329.3,"s":18},{"t":"c6r","p":69329.6,"s":30},{"t":"c6r","p":69329.9,"s":30},{"t":"c6r","p":69330.2,"s":12},{"t":"c6r","p":69334.9,"s":8},{"t":"c6r","p":69337.9,"s":6},{"t":"c6r","p":69338.8,"s":6},{"t":"c6r","p":69339.3,"s":6}
]},
 "facet":{"row":{"field":"t","type":"nominal","header":null}},
 "spec":{"width":281,"height":13,"encoding":{"x":{"field":"p","type":"quantitative","scale":{"domain":[69312.8,69348.4],"nice":false,"zero":false},"axis":{"orient":"top","values":[69320,69340],"format":",d","title":null,"domain":false,"grid":false,"labelFontSize":8,"labelPadding":0,"tickSize":5,"tickColor":"#444","labelColor":"#222"}},"y":{"field":"v","type":"quantitative","scale":{"domain":[0,100]},"axis":null},"color":{"field":"t","type":"nominal","scale":{"domain":["c1a","c1c","c2b","c2r","c3b","c3r","c4b","c4r","c5b","c5r","c6b","c6r","c7g"],"range":["#74b4e0","#20b060","#1a3cf0","#f0143c","#1a3cf0","#f0143c","#1a3cf0","#f0143c","#1a3cf0","#f0143c","#1a3cf0","#f0143c","#000000"]},"legend":null}},"layer":[
{"transform":[{"filter":"isValid(datum.range)"}],"mark":{"type":"rect"},"encoding":{"x":{"datum":69312.8},"x2":{"datum":69348.4},"y":{"datum":0,"axis":null},"y2":{"datum":100},"color":{"value":"#f6f6f6"}}},
{"transform":[{"filter":"datum.range"}],"mark":{"type":"rule","strokeWidth":1},"encoding":{"x":{"datum":69312.8},"x2":{"datum":69348.4},"y":{"datum":0,"axis":null},"color":{"value":"#dcdcdc"}}},
{"transform":[{"filter":"isValid(datum.s)"}],"mark":{"type":"bar","width":1.5,"orient":"vertical"},"encoding":{"y":{"field":"s","type":"quantitative","stack":null,"axis":null}}},
{"transform":[{"filter":"datum.range&&test(/b$|c1/,datum.t)"}],"mark":{"type":"rule","strokeWidth":1.5},"encoding":{"x":{"datum":69312.5},"x2":{"datum":69313.05},"y":{"datum":92,"axis":null},"color":{"value":"#000"}}},
{"transform":[{"filter":"datum.range&&test(/b$|c1/,datum.t)"}],"mark":{"type":"rule","strokeWidth":1.5},"encoding":{"x":{"datum":69312.5},"y":{"datum":92,"axis":null},"y2":{"datum":0},"color":{"value":"#000"}}},
{"transform":[{"filter":"datum.range&&test(/r$|c1/,datum.t)"}],"mark":{"type":"rule","strokeWidth":1.5},"encoding":{"x":{"datum":69312.5},"x2":{"datum":69313.05},"y":{"datum":8,"axis":null},"color":{"value":"#000"}}},
{"transform":[{"filter":"datum.range&&test(/r$|c1/,datum.t)"}],"mark":{"type":"rule","strokeWidth":1.5},"encoding":{"x":{"datum":69312.5},"y":{"datum":100,"axis":null},"y2":{"datum":8},"color":{"value":"#000"}}},
{"transform":[{"filter":"datum.range"}],"mark":{"type":"text","fontSize":6,"align":"left","opacity":0.75},"encoding":{"text":{"field":"range"}}},
{"transform":[{"filter":"isValid(datum.er)"}],"mark":{"type":"text","fontSize":9},"encoding":{"text":{"field":"er"}}},
{"transform":[{"filter":"isValid(datum.name)"}],"mark":{"type":"text","fontSize":8,"align":"left"},"encoding":{"text":{"field":"name"},"color":{"value":"#111"}}},
{"transform":[{"filter":"isValid(datum.gene)"}],"mark":{"type":"text","fontSize":11,"fontWeight":"bold"},"encoding":{"text":{"field":"gene"},"color":{"value":"#000"}}},
{"transform":[{"filter":"isValid(datum.arrow)"}],"mark":{"type":"rule","strokeWidth":2},"encoding":{"x2":{"field":"p2"},"color":{"condition":{"test":"datum.arrow==='left'","value":"#f00000"},"value":"#0000e0"}}},
{"transform":[{"filter":"isValid(datum.arrow)"}],"mark":{"type":"point","filled":true,"opacity":1,"size":45},"encoding":{"x":{"field":"p2","type":"quantitative"},"shape":{"field":"arrow","type":"nominal","scale":{"domain":["left","right"],"range":["triangle-left","triangle-right"]},"legend":null},"color":{"condition":{"test":"datum.arrow==='left'","value":"#f00000"},"value":"#0000e0"}}}
]}}],"spacing":0,"bounds":"flush"},
{"width":685,"height":19,"data":{"values":[]},"mark":"point"},
{"resolve":{"scale":{"color":"independent","shape":"independent"},"legend":{"color":"independent"}},"hconcat":[{"width":117,"height":100,"data":{"values":[]},"mark":"point","title":{"text":"d","anchor":"start","dy":-50,"fontSize":21,"fontWeight":"bold"}},
{"width":72,"height":231,"encoding":{"x":{"field":"h","type":"quantitative","scale":{"domain":[72,0],"nice":false},"axis":null},"x2":{"field":"h2"},"y":{"field":"r","type":"quantitative","scale":{"domain":[0,231],"reverse":true,"nice":false},"axis":null},"y2":{"field":"r2"}},"layer":[
{"data":{"values":[{"h":71.7,"h2":71.7,"r":62,"r2":178},{"h":71.7,"h2":44.3,"r":62,"r2":62},{"h":71.7,"h2":36.7,"r":178,"r2":178},{"h":44.3,"h2":44.3,"r":34.3,"r2":87},{"h":44.3,"h2":24.7,"r":34.3,"r2":34.3},{"h":24.7,"h2":24.7,"r":25.3,"r2":43.7},{"h":44.3,"h2":23,"r":87,"r2":87},{"h":23,"h2":23,"r":75.3,"r2":102},{"h":36.7,"h2":36.7,"r":150.3,"r2":205.3},{"h":36.7,"h2":25.7,"r":150.3,"r2":150.3},{"h":25.7,"h2":25.7,"r":128.7,"r2":168.7},{"h":36.7,"h2":28.7,"r":205.3,"r2":205.3},{"h":28.7,"h2":28.7,"r":193.7,"r2":215.3},{"h":24.7,"h2":16,"r":25.3,"r2":25.3},{"h":16,"h2":16,"r":12,"r2":36},{"h":24.7,"h2":16,"r":43.7,"r2":43.7},{"h":16,"h2":16,"r":38,"r2":54},{"h":23,"h2":14,"r":75.3,"r2":75.3},{"h":14,"h2":14,"r":60,"r2":88},{"h":23,"h2":14,"r":102,"r2":102},{"h":14,"h2":14,"r":94,"r2":110},{"h":25.7,"h2":17,"r":128.7,"r2":128.7},{"h":17,"h2":17,"r":118,"r2":140},{"h":25.7,"h2":17,"r":168.7,"r2":168.7},{"h":17,"h2":17,"r":152,"r2":182},{"h":28.7,"h2":14,"r":193.7,"r2":193.7},{"h":14,"h2":14,"r":186,"r2":200},{"h":28.7,"h2":14,"r":215.3,"r2":215.3},{"h":14,"h2":14,"r":205,"r2":226},{"h":16,"h2":9,"r":12,"r2":12},{"h":9,"h2":9,"r":5,"r2":19},{"h":16,"h2":9,"r":36,"r2":36},{"h":9,"h2":9,"r":30,"r2":42},{"h":16,"h2":9,"r":54,"r2":54},{"h":14,"h2":9,"r":60,"r2":60},{"h":9,"h2":9,"r":54,"r2":66},{"h":14,"h2":9,"r":88,"r2":88},{"h":9,"h2":9,"r":80,"r2":94},{"h":14,"h2":9,"r":110,"r2":110},{"h":9,"h2":9,"r":104,"r2":116},{"h":17,"h2":9,"r":118,"r2":118},{"h":9,"h2":9,"r":112,"r2":124},{"h":17,"h2":9,"r":140,"r2":140},{"h":9,"h2":9,"r":134,"r2":146},{"h":17,"h2":9,"r":152,"r2":152},{"h":9,"h2":9,"r":148,"r2":158},{"h":17,"h2":9,"r":182,"r2":182},{"h":9,"h2":9,"r":176,"r2":188},{"h":14,"h2":9,"r":200,"r2":200},{"h":9,"h2":9,"r":194,"r2":206},{"h":14,"h2":9,"r":226,"r2":226},{"h":9,"h2":9,"r":218,"r2":231}]},"mark":{"type":"rule","color":"#555","strokeWidth":1}},
{"data":{"values":[{"h":0,"h2":8,"r":3,"r2":3},{"h":0,"h2":5,"r":7,"r2":7},{"h":0,"h2":10,"r":11,"r2":11},{"h":0,"h2":6,"r":15,"r2":15},{"h":0,"h2":9,"r":19,"r2":19},{"h":0,"h2":5,"r":23,"r2":23},{"h":0,"h2":7,"r":27,"r2":27},{"h":0,"h2":10,"r":31,"r2":31},{"h":0,"h2":6,"r":35,"r2":35},{"h":0,"h2":8,"r":39,"r2":39},{"h":0,"h2":5,"r":43,"r2":43},{"h":0,"h2":9,"r":47,"r2":47},{"h":0,"h2":6,"r":51,"r2":51},{"h":0,"h2":10,"r":55,"r2":55},{"h":0,"h2":7,"r":59,"r2":59},{"h":0,"h2":5,"r":63,"r2":63},{"h":0,"h2":9,"r":67,"r2":67},{"h":0,"h2":6,"r":71,"r2":71},{"h":0,"h2":8,"r":75,"r2":75},{"h":0,"h2":11,"r":79,"r2":79},{"h":0,"h2":5,"r":83,"r2":83},{"h":0,"h2":9,"r":87,"r2":87},{"h":0,"h2":6,"r":91,"r2":91},{"h":0,"h2":7,"r":95,"r2":95},{"h":0,"h2":10,"r":99,"r2":99},{"h":0,"h2":5,"r":103,"r2":103},{"h":0,"h2":8,"r":107,"r2":107},{"h":0,"h2":6,"r":111,"r2":111},{"h":0,"h2":11,"r":115,"r2":115},{"h":0,"h2":7,"r":119,"r2":119},{"h":0,"h2":5,"r":123,"r2":123},{"h":0,"h2":9,"r":127,"r2":127},{"h":0,"h2":6,"r":131,"r2":131},{"h":0,"h2":8,"r":135,"r2":135},{"h":0,"h2":10,"r":139,"r2":139},{"h":0,"h2":5,"r":143,"r2":143},{"h":0,"h2":7,"r":147,"r2":147},{"h":0,"h2":11,"r":151,"r2":151},{"h":0,"h2":6,"r":155,"r2":155},{"h":0,"h2":9,"r":159,"r2":159},{"h":0,"h2":5,"r":163,"r2":163},{"h":0,"h2":8,"r":167,"r2":167},{"h":0,"h2":12,"r":171,"r2":171},{"h":0,"h2":6,"r":175,"r2":175},{"h":0,"h2":9,"r":179,"r2":179},{"h":0,"h2":7,"r":183,"r2":183},{"h":0,"h2":5,"r":187,"r2":187},{"h":0,"h2":10,"r":191,"r2":191},{"h":0,"h2":6,"r":195,"r2":195},{"h":0,"h2":8,"r":199,"r2":199},{"h":0,"h2":11,"r":203,"r2":203},{"h":0,"h2":5,"r":207,"r2":207},{"h":0,"h2":9,"r":211,"r2":211},{"h":0,"h2":7,"r":215,"r2":215},{"h":0,"h2":12,"r":219,"r2":219},{"h":0,"h2":6,"r":223,"r2":223},{"h":0,"h2":10,"r":227,"r2":227},{"h":0,"h2":8,"r":230,"r2":230}]},"mark":{"type":"rule","color":"#000","strokeWidth":1.6}},
{"data":{"values":[{"h":3,"h2":3,"r":0,"r2":231}]},"mark":{"type":"rule","color":"#000","strokeWidth":6}}]},
{"width":232,"height":231,"title":{"text":"Row Z−Score","anchor":"start","fontSize":6.5,"fontWeight":"bold","dx":-3,"dy":61,"color":"#333"},"data":{"values":[
{"row":1,"col":1,"z":-0.6},{"row":1,"col":2,"z":-1.8},{"row":1,"col":3,"z":1.4},{"row":1,"col":4,"z":0.4},{"row":1,"col":5,"z":1.5},{"row":1,"col":6,"z":0.3},{"row":1,"col":7,"z":0.3},{"row":1,"col":8,"z":-0.3},{"row":1,"col":9,"z":-0.3},{"row":1,"col":10,"z":-1.2},
{"row":2,"col":1,"z":-0.9},{"row":2,"col":2,"z":-1.8},{"row":2,"col":3,"z":1.5},{"row":2,"col":4,"z":0.7},{"row":2,"col":5,"z":1.3},{"row":2,"col":6,"z":0.2},{"row":2,"col":7,"z":0.2},{"row":2,"col":8,"z":-0.4},{"row":2,"col":9,"z":-0.5},{"row":2,"col":10,"z":-1.3},
{"row":3,"col":1,"z":-1.6},{"row":3,"col":2,"z":-1.9},{"row":3,"col":3,"z":0.9},{"row":3,"col":4,"z":0.5},{"row":3,"col":5,"z":1.2},{"row":3,"col":6,"z":1},{"row":3,"col":7,"z":0.2},{"row":3,"col":8,"z":-0.5},{"row":3,"col":9,"z":-0.6},{"row":3,"col":10,"z":-1.3},
{"row":4,"col":1,"z":-0.3},{"row":4,"col":2,"z":-1.8},{"row":4,"col":3,"z":1.4},{"row":4,"col":4,"z":0.3},{"row":4,"col":5,"z":1.3},{"row":4,"col":6,"z":0.2},{"row":4,"col":7,"z":0.3},{"row":4,"col":8,"z":-0.5},{"row":4,"col":9,"z":-0.4},{"row":4,"col":10,"z":-2.2},
{"row":5,"col":1,"z":-0.7},{"row":5,"col":2,"z":-1.5},{"row":5,"col":3,"z":1.5},{"row":5,"col":4,"z":0.7},{"row":5,"col":5,"z":1.2},{"row":5,"col":6,"z":0.4},{"row":5,"col":7,"z":0.3},{"row":5,"col":8,"z":-0.5},{"row":5,"col":9,"z":-0.5},{"row":5,"col":10,"z":-1.2},
{"row":6,"col":1,"z":-1},{"row":6,"col":2,"z":-1.7},{"row":6,"col":3,"z":1.3},{"row":6,"col":4,"z":0.8},{"row":6,"col":5,"z":1.3},{"row":6,"col":6,"z":0.2},{"row":6,"col":7,"z":0.2},{"row":6,"col":8,"z":-0.5},{"row":6,"col":9,"z":-0.3},{"row":6,"col":10,"z":-1.1},
{"row":7,"col":1,"z":-1.5},{"row":7,"col":2,"z":-1.9},{"row":7,"col":3,"z":0.9},{"row":7,"col":4,"z":0.5},{"row":7,"col":5,"z":1},{"row":7,"col":6,"z":0.5},{"row":7,"col":7,"z":0.3},{"row":7,"col":8,"z":-0.5},{"row":7,"col":9,"z":-0.6},{"row":7,"col":10,"z":-1},
{"row":8,"col":1,"z":-1.2},{"row":8,"col":2,"z":-1.8},{"row":8,"col":3,"z":1.2},{"row":8,"col":4,"z":0.5},{"row":8,"col":5,"z":1.1},{"row":8,"col":6,"z":0.7},{"row":8,"col":7,"z":0.2},{"row":8,"col":8,"z":-0.6},{"row":8,"col":9,"z":-0.8},{"row":8,"col":10,"z":-1.1},
{"row":9,"col":1,"z":-0.9},{"row":9,"col":2,"z":-1.6},{"row":9,"col":3,"z":1.4},{"row":9,"col":4,"z":0.9},{"row":9,"col":5,"z":1},{"row":9,"col":6,"z":0.8},{"row":9,"col":7,"z":0},{"row":9,"col":8,"z":-0.4},{"row":9,"col":9,"z":-1},{"row":9,"col":10,"z":-1.2},
{"row":10,"col":1,"z":-1.4},{"row":10,"col":2,"z":-0.9},{"row":10,"col":3,"z":1.3},{"row":10,"col":4,"z":1.1},{"row":10,"col":5,"z":0.8},{"row":10,"col":6,"z":0.8},{"row":10,"col":7,"z":-0.2},{"row":10,"col":8,"z":-0.2},{"row":10,"col":9,"z":-1.2},{"row":10,"col":10,"z":-1.3},
{"row":11,"col":1,"z":-0.6},{"row":11,"col":2,"z":-1.4},{"row":11,"col":3,"z":1.6},{"row":11,"col":4,"z":1.2},{"row":11,"col":5,"z":1.2},{"row":11,"col":6,"z":0.1},{"row":11,"col":7,"z":0.5},{"row":11,"col":8,"z":-0.5},{"row":11,"col":9,"z":-0.2},{"row":11,"col":10,"z":-1.6},
{"row":12,"col":1,"z":-1.5},{"row":12,"col":2,"z":-1},{"row":12,"col":3,"z":0.7},{"row":12,"col":4,"z":1.4},{"row":12,"col":5,"z":0.7},{"row":12,"col":6,"z":1.1},{"row":12,"col":7,"z":0},{"row":12,"col":8,"z":-0.1},{"row":12,"col":9,"z":-1.1},{"row":12,"col":10,"z":-1.2},
{"row":13,"col":1,"z":-1.2},{"row":13,"col":2,"z":-1.3},{"row":13,"col":3,"z":1.7},{"row":13,"col":4,"z":0.3},{"row":13,"col":5,"z":1.3},{"row":13,"col":6,"z":0.1},{"row":13,"col":7,"z":0.3},{"row":13,"col":8,"z":-0.6},{"row":13,"col":9,"z":-0.4},{"row":13,"col":10,"z":-1.5},
{"row":14,"col":1,"z":-0.3},{"row":14,"col":2,"z":-1.6},{"row":14,"col":3,"z":1.9},{"row":14,"col":4,"z":0.6},{"row":14,"col":5,"z":1.4},{"row":14,"col":6,"z":0},{"row":14,"col":7,"z":0.6},{"row":14,"col":8,"z":-0.7},{"row":14,"col":9,"z":-0.4},{"row":14,"col":10,"z":-1.7},
{"row":15,"col":1,"z":-1},{"row":15,"col":2,"z":-1.7},{"row":15,"col":3,"z":1.5},{"row":15,"col":4,"z":0},{"row":15,"col":5,"z":1.3},{"row":15,"col":6,"z":-0.2},{"row":15,"col":7,"z":0.7},{"row":15,"col":8,"z":-0.7},{"row":15,"col":9,"z":-0.5},{"row":15,"col":10,"z":-1.8},
{"row":16,"col":1,"z":-0.2},{"row":16,"col":2,"z":-1.5},{"row":16,"col":3,"z":1.4},{"row":16,"col":4,"z":0.5},{"row":16,"col":5,"z":1.1},{"row":16,"col":6,"z":0.1},{"row":16,"col":7,"z":0.6},{"row":16,"col":8,"z":-0.8},{"row":16,"col":9,"z":-0.4},{"row":16,"col":10,"z":-1.9},
{"row":17,"col":1,"z":-0.9},{"row":17,"col":2,"z":-1.2},{"row":17,"col":3,"z":1},{"row":17,"col":4,"z":0},{"row":17,"col":5,"z":1.2},{"row":17,"col":6,"z":-0.1},{"row":17,"col":7,"z":0.5},{"row":17,"col":8,"z":-0.5},{"row":17,"col":9,"z":-0.5},{"row":17,"col":10,"z":-1.5},
{"row":18,"col":1,"z":-1.3},{"row":18,"col":2,"z":-0.5},{"row":18,"col":3,"z":0.8},{"row":18,"col":4,"z":1.4},{"row":18,"col":5,"z":0.2},{"row":18,"col":6,"z":1},{"row":18,"col":7,"z":-0.6},{"row":18,"col":8,"z":0.2},{"row":18,"col":9,"z":-1.5},{"row":18,"col":10,"z":-0.2},
{"row":19,"col":1,"z":-1.4},{"row":19,"col":2,"z":-0.2},{"row":19,"col":3,"z":0.1},{"row":19,"col":4,"z":1.5},{"row":19,"col":5,"z":-0.1},{"row":19,"col":6,"z":1.2},{"row":19,"col":7,"z":-0.9},{"row":19,"col":8,"z":0.4},{"row":19,"col":9,"z":-1.6},{"row":19,"col":10,"z":0},
{"row":20,"col":1,"z":-1.3},{"row":20,"col":2,"z":-0.5},{"row":20,"col":3,"z":1.3},{"row":20,"col":4,"z":1.5},{"row":20,"col":5,"z":0.4},{"row":20,"col":6,"z":1.1},{"row":20,"col":7,"z":-0.3},{"row":20,"col":8,"z":0},{"row":20,"col":9,"z":-1.4},{"row":20,"col":10,"z":-0.9},
{"row":21,"col":1,"z":-1.6},{"row":21,"col":2,"z":-0.1},{"row":21,"col":3,"z":1.2},{"row":21,"col":4,"z":1.6},{"row":21,"col":5,"z":0.6},{"row":21,"col":6,"z":1},{"row":21,"col":7,"z":-0.2},{"row":21,"col":8,"z":-0.1},{"row":21,"col":9,"z":-1.8},{"row":21,"col":10,"z":-1},
{"row":22,"col":1,"z":-1.3},{"row":22,"col":2,"z":-0.9},{"row":22,"col":3,"z":1},{"row":22,"col":4,"z":1.5},{"row":22,"col":5,"z":0.5},{"row":22,"col":6,"z":0.9},{"row":22,"col":7,"z":-0.1},{"row":22,"col":8,"z":0.2},{"row":22,"col":9,"z":-1.3},{"row":22,"col":10,"z":-0.7},
{"row":23,"col":1,"z":-1.2},{"row":23,"col":2,"z":-1.1},{"row":23,"col":3,"z":1.4},{"row":23,"col":4,"z":1.4},{"row":23,"col":5,"z":0.4},{"row":23,"col":6,"z":1.1},{"row":23,"col":7,"z":-0.3},{"row":23,"col":8,"z":0.1},{"row":23,"col":9,"z":-1.2},{"row":23,"col":10,"z":-0.5},
{"row":24,"col":1,"z":-2.1},{"row":24,"col":2,"z":-0.5},{"row":24,"col":3,"z":1.1},{"row":24,"col":4,"z":1.2},{"row":24,"col":5,"z":0.3},{"row":24,"col":6,"z":0.7},{"row":24,"col":7,"z":-0.1},{"row":24,"col":8,"z":0.3},{"row":24,"col":9,"z":-1.3},{"row":24,"col":10,"z":-0.2},
{"row":25,"col":1,"z":-1.9},{"row":25,"col":2,"z":-1},{"row":25,"col":3,"z":1.4},{"row":25,"col":4,"z":0.8},{"row":25,"col":5,"z":0.6},{"row":25,"col":6,"z":0.6},{"row":25,"col":7,"z":-0.4},{"row":25,"col":8,"z":0},{"row":25,"col":9,"z":-1},{"row":25,"col":10,"z":-0.4},
{"row":26,"col":1,"z":-1.3},{"row":26,"col":2,"z":-1.5},{"row":26,"col":3,"z":1.3},{"row":26,"col":4,"z":1},{"row":26,"col":5,"z":0.5},{"row":26,"col":6,"z":0.4},{"row":26,"col":7,"z":-0.1},{"row":26,"col":8,"z":0.3},{"row":26,"col":9,"z":-1},{"row":26,"col":10,"z":-0.6},
{"row":27,"col":1,"z":-1.1},{"row":27,"col":2,"z":-1.3},{"row":27,"col":3,"z":0.9},{"row":27,"col":4,"z":1.3},{"row":27,"col":5,"z":0.3},{"row":27,"col":6,"z":1.1},{"row":27,"col":7,"z":-0.5},{"row":27,"col":8,"z":-0.1},{"row":27,"col":9,"z":-1.7},{"row":27,"col":10,"z":-0.8},
{"row":28,"col":1,"z":-1.6},{"row":28,"col":2,"z":-0.3},{"row":28,"col":3,"z":1.5},{"row":28,"col":4,"z":1.5},{"row":28,"col":5,"z":-0.1},{"row":28,"col":6,"z":1.2},{"row":28,"col":7,"z":-0.8},{"row":28,"col":8,"z":0.4},{"row":28,"col":9,"z":-1.7},{"row":28,"col":10,"z":-0.1},
{"row":29,"col":1,"z":-1.4},{"row":29,"col":2,"z":-1.5},{"row":29,"col":3,"z":1.9},{"row":29,"col":4,"z":0.3},{"row":29,"col":5,"z":1.1},{"row":29,"col":6,"z":-0.1},{"row":29,"col":7,"z":0.4},{"row":29,"col":8,"z":-0.8},{"row":29,"col":9,"z":-0.3},{"row":29,"col":10,"z":-1.9},
{"row":30,"col":1,"z":-1.5},{"row":30,"col":2,"z":-0.1},{"row":30,"col":3,"z":0.1},{"row":30,"col":4,"z":1.7},{"row":30,"col":5,"z":0},{"row":30,"col":6,"z":1.7},{"row":30,"col":7,"z":-0.9},{"row":30,"col":8,"z":0.5},{"row":30,"col":9,"z":-1.5},{"row":30,"col":10,"z":-0.1},
{"row":31,"col":1,"z":-1.6},{"row":31,"col":2,"z":0},{"row":31,"col":3,"z":0.7},{"row":31,"col":4,"z":1.6},{"row":31,"col":5,"z":0.4},{"row":31,"col":6,"z":1.6},{"row":31,"col":7,"z":-0.9},{"row":31,"col":8,"z":0.6},{"row":31,"col":9,"z":-1.6},{"row":31,"col":10,"z":0},
{"row":32,"col":1,"z":-0.9},{"row":32,"col":2,"z":-0.5},{"row":32,"col":3,"z":0.9},{"row":32,"col":4,"z":1.4},{"row":32,"col":5,"z":0.6},{"row":32,"col":6,"z":1.3},{"row":32,"col":7,"z":-0.8},{"row":32,"col":8,"z":0.3},{"row":32,"col":9,"z":-1.2},{"row":32,"col":10,"z":-0.2},
{"row":33,"col":1,"z":0.4},{"row":33,"col":2,"z":-1.4},{"row":33,"col":3,"z":1.8},{"row":33,"col":4,"z":0.2},{"row":33,"col":5,"z":0.9},{"row":33,"col":6,"z":0.1},{"row":33,"col":7,"z":0.2},{"row":33,"col":8,"z":-0.8},{"row":33,"col":9,"z":-0.6},{"row":33,"col":10,"z":-1.8},
{"row":34,"col":1,"z":-0.7},{"row":34,"col":2,"z":0.3},{"row":34,"col":3,"z":0},{"row":34,"col":4,"z":1.2},{"row":34,"col":5,"z":-0.4},{"row":34,"col":6,"z":0.9},{"row":34,"col":7,"z":-0.4},{"row":34,"col":8,"z":0.2},{"row":34,"col":9,"z":-1.1},{"row":34,"col":10,"z":-0.9},
{"row":35,"col":1,"z":-1.2},{"row":35,"col":2,"z":-0.9},{"row":35,"col":3,"z":1.8},{"row":35,"col":4,"z":1.2},{"row":35,"col":5,"z":0.3},{"row":35,"col":6,"z":0.1},{"row":35,"col":7,"z":-0.6},{"row":35,"col":8,"z":-0.2},{"row":35,"col":9,"z":-1.1},{"row":35,"col":10,"z":-1},
{"row":36,"col":1,"z":-2.2},{"row":36,"col":2,"z":-0.7},{"row":36,"col":3,"z":1.4},{"row":36,"col":4,"z":1.4},{"row":36,"col":5,"z":0.1},{"row":36,"col":6,"z":0.9},{"row":36,"col":7,"z":-0.8},{"row":36,"col":8,"z":0.2},{"row":36,"col":9,"z":-0.8},{"row":36,"col":10,"z":-1},
{"row":37,"col":1,"z":-1.3},{"row":37,"col":2,"z":-0.1},{"row":37,"col":3,"z":0.8},{"row":37,"col":4,"z":1.7},{"row":37,"col":5,"z":0.2},{"row":37,"col":6,"z":1.1},{"row":37,"col":7,"z":-0.9},{"row":37,"col":8,"z":0.4},{"row":37,"col":9,"z":-2},{"row":37,"col":10,"z":-0.2},
{"row":38,"col":1,"z":-1.7},{"row":38,"col":2,"z":-0.2},{"row":38,"col":3,"z":1.1},{"row":38,"col":4,"z":1.6},{"row":38,"col":5,"z":0},{"row":38,"col":6,"z":1.2},{"row":38,"col":7,"z":-1},{"row":38,"col":8,"z":0.3},{"row":38,"col":9,"z":-1.9},{"row":38,"col":10,"z":-0.2},
{"row":39,"col":1,"z":-0.2},{"row":39,"col":2,"z":-0.8},{"row":39,"col":3,"z":0.6},{"row":39,"col":4,"z":1.4},{"row":39,"col":5,"z":0.2},{"row":39,"col":6,"z":0.7},{"row":39,"col":7,"z":-0.9},{"row":39,"col":8,"z":0.3},{"row":39,"col":9,"z":-1.7},{"row":39,"col":10,"z":0},
{"row":40,"col":1,"z":-1},{"row":40,"col":2,"z":-0.1},{"row":40,"col":3,"z":0.2},{"row":40,"col":4,"z":1.3},{"row":40,"col":5,"z":-0.1},{"row":40,"col":6,"z":1.5},{"row":40,"col":7,"z":-0.9},{"row":40,"col":8,"z":0.2},{"row":40,"col":9,"z":-1.6},{"row":40,"col":10,"z":-0.4}
]},"mark":{"type":"rect","width":23.4,"height":6},"encoding":{"x":{"field":"col","type":"ordinal","scale":{"paddingInner":0,"paddingOuter":0},"axis":{"orient":"top","title":null,"labelAngle":-90,"ticks":false,"domain":false,"labelFontSize":8,"labelPadding":2,"labelColor":"#222","labelExpr":"['','cFBS_1','cFBS_2','E2_1','E2_2','E2+ 2µM EHT_1','E2+ 2µM EHT_2','E2+ 5µM EHT_1','E2+ 5µM EHT_2','E2+ 10µM EHT_1','E2+ 10µM EHT_2'][+datum.value]"}},"y":{"field":"row","type":"ordinal","scale":{"paddingInner":0,"paddingOuter":0},"axis":null},"color":{"field":"z","type":"quantitative","scale":{"domain":[-2.4,0,2.4],"interpolate":"rgb","range":["#0000ff","#000000","#ffff00"]},"legend":{"orient":"none","legendX":-42,"legendY":-69,"direction":"horizontal","gradientLength":36,"gradientThickness":20,"values":[-2,0,2],"title":"Color Key","titleFontSize":8,"labelFontSize":7.5}}}}],"spacing":0,"bounds":"flush"}
]}
